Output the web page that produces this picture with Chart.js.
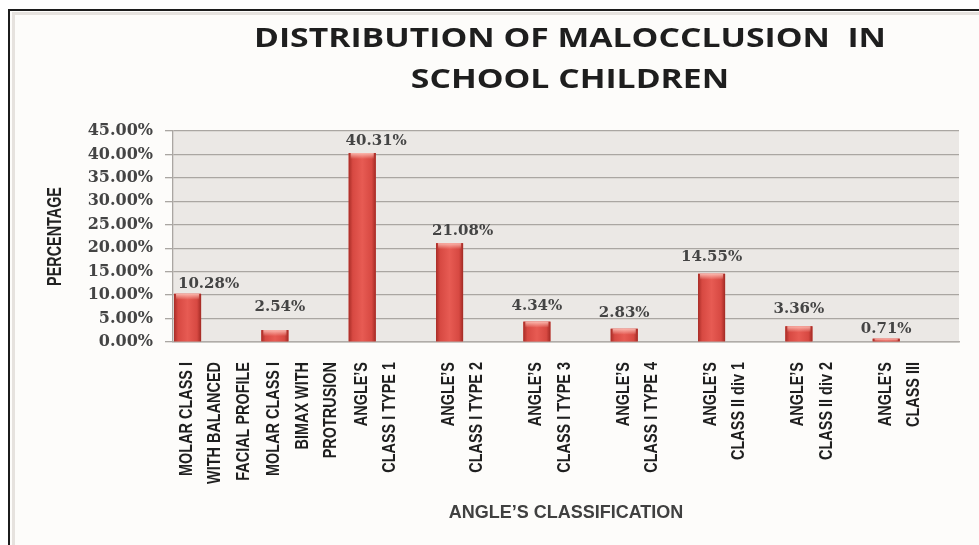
<!DOCTYPE html>
<html>
<head>
<meta charset="utf-8">
<title>Distribution of malocclusion in school children</title>
<script src="https://cdn.jsdelivr.net/npm/chart.js@4.4.1/dist/chart.umd.min.js"></script>
<style>
  html, body { margin: 0; padding: 0; background: #ffffff; }
  body { width: 979px; height: 545px; position: relative; overflow: hidden; }
  .frame { position: absolute; left: 8px; top: 9px; width: 1000px; height: 600px;
           border-left: 2px solid #1c1c1c; border-top: 2px solid #1c1c1c; background: #fdfcfa; }
  .inner { position: absolute; left: 12px; top: 12px; width: 1000px; height: 600px;
           border-left: 3px solid #e6e2de; border-top: 3px solid #e6e2de; }
  #chart { position: absolute; left: 0; top: 0; }
</style>
</head>
<body>
<div class="frame"></div>
<div class="inner"></div>
<canvas id="chart" width="979" height="545"></canvas>
<script>
// Values (percent of children)
const titleLines = ['DISTRIBUTION OF MALOCCLUSION  IN', 'SCHOOL CHILDREN'];
const categories = [
    ['MOLAR CLASS I', 'WITH BALANCED', 'FACIAL PROFILE'],
    ['MOLAR CLASS I', 'BIMAX WITH', 'PROTRUSION'],
    ['ANGLE\u2019S', 'CLASS I TYPE 1'],
    ['ANGLE\u2019S', 'CLASS I TYPE 2'],
    ['ANGLE\u2019S', 'CLASS I TYPE 3'],
    ['ANGLE\u2019S', 'CLASS I TYPE 4'],
    ['ANGLE\u2019S', 'CLASS II div 1'],
    ['ANGLE\u2019S', 'CLASS II div 2'],
    ['ANGLE\u2019S', 'CLASS III']
];
const percentages = [10.28, 2.54, 40.31, 21.08, 4.34, 2.83, 14.55, 3.36, 0.71];
const yMax = 45;
const yStep = 5;
const yTitle = 'PERCENTAGE';
const xTitle = 'ANGLE\u2019S CLASSIFICATION';

// label nudges (dx, lift above bar top) - the original labels were moved by hand
const labelNudge = [[21, 10], [5, 23], [14, 12], [13, 12], [0, 16], [0, 16], [0, 17], [0, 17], [0, 10]];

const plotBackground = {
    id: 'plotBackground',
    beforeDraw(chart) {
        const { ctx, chartArea } = chart;
        ctx.save();
        ctx.fillStyle = '#ebe8e5';
        ctx.fillRect(chartArea.left, chartArea.top, chartArea.right - chartArea.left, chartArea.bottom - chartArea.top);
        ctx.restore();
    }
};

// Excel-like bevel on the bars, then the value labels
const barShading = {
    id: 'barShading',
    afterDatasetsDraw(chart) {
        const { ctx } = chart;
        const meta = chart.getDatasetMeta(0);
        ctx.save();
        meta.data.forEach((bar) => {
            const { x, y, base, width } = bar.getProps(['x', 'y', 'base', 'width'], true);
            const left = x - width / 2;
            const g = ctx.createLinearGradient(left, 0, left + width, 0);
            g.addColorStop(0, '#a82c26');
            g.addColorStop(0.15, '#d74942');
            g.addColorStop(0.5, '#e75b53');
            g.addColorStop(0.85, '#d74942');
            g.addColorStop(1, '#a22a24');
            ctx.fillStyle = g;
            ctx.fillRect(left, y, width, base - y);
            const h = Math.min(6, base - y);
            const g2 = ctx.createLinearGradient(0, y, 0, y + h);
            g2.addColorStop(0, 'rgba(255,200,190,0.85)');
            g2.addColorStop(1, 'rgba(255,200,190,0)');
            ctx.fillStyle = g2;
            ctx.fillRect(left + 2, y, width - 4, h);
        });

        ctx.font = 'bold 15px "DejaVu Serif"';
        ctx.fillStyle = '#444444';
        ctx.textAlign = 'center';
        ctx.textBaseline = 'middle';
        meta.data.forEach((bar, i) => {
            const [dx, lift] = labelNudge[i];
            ctx.fillText(percentages[i].toFixed(2) + '%', bar.x + dx, bar.y - lift);
        });
        ctx.restore();
    }
};

// condensed text: the source used a narrow font, so squeeze a normal one
function condensedText(ctx, text, x, y, squeeze, align) {
    ctx.save();
    ctx.translate(x, y);
    ctx.rotate(-Math.PI / 2);
    ctx.scale(squeeze, 1);
    ctx.textAlign = align;
    ctx.fillText(text, 0, 0);
    ctx.restore();
}

const textLayer = {
    id: 'textLayer',
    afterDraw(chart) {
        const { ctx, chartArea } = chart;
        const xs = chart.scales.x;
        ctx.save();
        ctx.textBaseline = 'middle';

        // category labels, read bottom to top, lines stacked left to right
        ctx.fillStyle = '#1f1f1f';
        ctx.font = 'bold 19px "Liberation Sans"';
        categories.forEach((lines, i) => {
            const cx = xs.getPixelForValue(i);
            lines.forEach((line, j) => {
                condensedText(ctx, line, cx - 30 + j * 28.5, chartArea.bottom + 20, 0.76, 'right');
            });
        });

        // y axis title
        ctx.fillStyle = '#222222';
        ctx.font = 'bold 20px "Liberation Sans"';
        condensedText(ctx, yTitle, 55, (chartArea.top + chartArea.bottom) / 2, 0.72, 'center');

        // chart title, stretched like the original
        const cx = (chartArea.left + chartArea.right) / 2 + 4;
        ctx.font = 'bold 26px "Open Sans"';
        ctx.fillStyle = '#1e1e1e';
        ctx.textAlign = 'center';
        const sx = 632 / ctx.measureText(titleLines[0]).width;
        titleLines.forEach((line, i) => {
            ctx.save();
            ctx.translate(cx, 40 + i * 41);
            ctx.scale(sx, 1);
            ctx.fillText(line, 0, 0);
            ctx.restore();
        });
        ctx.restore();
    }
};

new Chart(document.getElementById('chart'), {
    type: 'bar',
    data: {
        labels: categories,
        datasets: [
            { label: 'Percentage', data: percentages, backgroundColor: '#dc4c45' },
            // two empty series, as in the source sheet, push the bars to the left of each slot
            { label: '', data: [] },
            { label: '', data: [] }
        ]
    },
    options: {
        responsive: false,
        animation: false,
        devicePixelRatio: 1,
        categoryPercentage: 1.0,
        barPercentage: 0.93,
        layout: { padding: { left: 44, top: 131, right: 20, bottom: 0 } },
        plugins: {
            legend: { display: false },
            title: { display: false },
            tooltip: { enabled: false }
        },
        scales: {
            x: {
                grid: { display: false },
                border: { color: '#b0aca8', width: 1.5 },
                ticks: { display: false },
                title: {
                    display: true,
                    text: xTitle,
                    color: '#404040',
                    font: { family: "'Liberation Sans', sans-serif", size: 18, weight: 'bold', lineHeight: 1.2 },
                    padding: { top: 0, bottom: 21 }
                },
                afterFit(scale) {
                    scale.height = 545 - 342;
                    scale.paddingLeft = 0;
                    scale.paddingRight = 0;
                }
            },
            y: {
                min: 0,
                max: yMax,
                grid: { color: '#aaa6a2', lineWidth: 1.3, tickLength: 8 },
                border: { color: '#aaa6a2', width: 1.3 },
                ticks: {
                    stepSize: yStep,
                    padding: 12,
                    color: '#444444',
                    font: { family: "'DejaVu Serif'", size: 16, weight: 'bold' },
                    callback: (v) => v.toFixed(2) + '%'
                },
                afterFit(scale) { scale.width = 173 - 44; }
            }
        }
    },
    plugins: [plotBackground, barShading, textLayer]
});
</script>
</body>
</html>
